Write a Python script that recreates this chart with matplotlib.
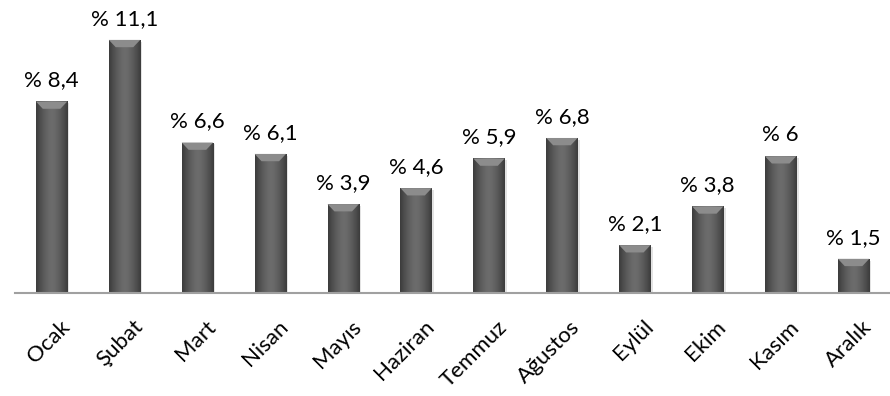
import numpy as np
import matplotlib
matplotlib.use("Agg")
import matplotlib.pyplot as plt
import matplotlib.transforms as mtransforms
from matplotlib.patches import Polygon

plt.rcParams["font.family"] = ["Lato", "DejaVu Sans"]

# ------------------------------------------------------------
# Data — monthly share (%)
# ------------------------------------------------------------
months = ["Ocak", "Şubat", "Mart", "Nisan", "Mayıs", "Haziran",
          "Temmuz", "Ağustos", "Eylül", "Ekim", "Kasım", "Aralık"]
values = [8.4, 11.1, 6.6, 6.1, 3.9, 4.6, 5.9, 6.8, 2.1, 3.8, 6.0, 1.5]
labels = ["% 8,4", "% 11,1", "% 6,6", "% 6,1", "% 3,9", "% 4,6",
          "% 5,9", "% 6,8", "% 2,1", "% 3,8", "% 6", "% 1,5"]

BAR_W = 0.43

fig = plt.figure(figsize=(8.9, 3.96), dpi=100)
ax = fig.add_axes([0.017, 0.26, 0.983, 0.74])

x = np.arange(len(months))
bars = ax.bar(x, values, width=BAR_W, color="#505050", zorder=2)

# horizontal gradient: darker edges, lighter middle
grad = np.abs(np.linspace(-1, 1, 64))
grad = 1 - grad ** 1.5
grad = np.tile(grad, (2, 1))
cmap = matplotlib.colors.LinearSegmentedColormap.from_list(
    "bar", ["#3c3c3c", "#6c6c6c"])

for b, v in zip(bars, values):
    x0 = b.get_x()
    w = b.get_width()
    # soft shadow to the right
    ax.bar(x0 + w / 2 + 0.03, v, width=w, bottom=-0.08,
           color="#c8c8c8", alpha=0.5, zorder=1)
    im = ax.imshow(grad, cmap=cmap, aspect="auto",
                   extent=(x0, x0 + w, 0, v), zorder=3)
    im.set_clip_path(b)
    # bevelled top
    bev = 0.32
    top = Polygon([(x0, v), (x0 + w, v), (x0 + w * 0.78, v - bev),
                   (x0 + w * 0.22, v - bev)], closed=True,
                  facecolor="#8c8c8c", edgecolor="none", zorder=4)
    ax.add_patch(top)

for xi, v, lab in zip(x, values, labels):
    ax.annotate(lab, (xi, v), xytext=(0, 8), textcoords="offset points",
                ha="center", va="bottom", fontsize=16, color="black")

ax.set_xlim(-0.5, len(months) - 0.5)
ax.set_ylim(0, 12.85)
ax.set_xticks(x)
ax.set_xticklabels(months, rotation=45, ha="right", rotation_mode="anchor",
                   fontsize=16)
ax.tick_params(axis="x", length=0, pad=17)
shift = mtransforms.ScaledTranslation(8 / 100, 0, fig.dpi_scale_trans)
for t in ax.get_xticklabels():
    t.set_transform(t.get_transform() + shift)
ax.set_yticks([])
for s in ["top", "right", "left"]:
    ax.spines[s].set_visible(False)
ax.spines["bottom"].set_color("#a0a0a0")
ax.spines["bottom"].set_linewidth(1.5)
ax.spines["bottom"].set_zorder(5)

fig.savefig("out.png", dpi=100)
